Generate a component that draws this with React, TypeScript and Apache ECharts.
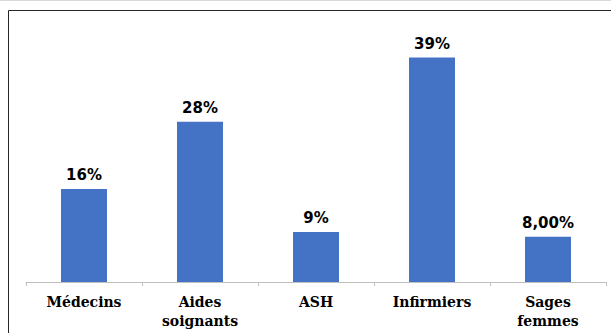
import React, { useEffect, useRef } from "react";
import * as echarts from "echarts";

const categories = ["Médecins", "Aides\nsoignants", "ASH", "Infirmiers", "Sages\nfemmes"];
const values = [16.26, 27.97, 8.74, 39.2, 7.92];
const valueLabels = ["16%", "28%", "9%", "39%", "8,00%"];

export default function App() {
  const ref = useRef<HTMLDivElement>(null);
  useEffect(() => {
    if (!ref.current) return;
    const chart = echarts.init(ref.current, null, { renderer: "svg" });
    chart.setOption({
      animation: false,
      backgroundColor: "#ffffff",
      grid: { left: 26, right: 5, top: 53, bottom: 51, containLabel: false },
      xAxis: {
        type: "category",
        data: categories,
        boundaryGap: true,
        axisLine: { show: true, lineStyle: { color: "#BFBFBF", width: 1 } },
        axisTick: { show: true, length: 4, lineStyle: { color: "#BFBFBF" } },
        axisLabel: {
          interval: 0,
          margin: 10,
          color: "#000000",
          fontFamily: "DejaVu Serif",
          fontWeight: "bold",
          fontSize: 14,
          lineHeight: 19,
        },
      },
      yAxis: {
        type: "value",
        min: 0,
        max: 40,
        show: false,
        splitLine: { show: false },
      },
      series: [
        {
          type: "bar",
          data: values,
          barWidth: 46,
          itemStyle: { color: "#4472C4" },
          label: {
            show: true,
            position: "top",
            distance: 6,
            color: "#000000",
            fontFamily: "DejaVu Sans",
            fontWeight: "bold",
            fontSize: 15,
            formatter: (p: any) => valueLabels[p.dataIndex],
          },
        },
      ],
      graphic: [
        {
          type: "rect",
          shape: { x: 8.5, y: 10.5, width: 700, height: 400 },
          style: { fill: "none", stroke: "#262626", lineWidth: 1 },
          silent: true,
        },
        {
          type: "line",
          shape: { x1: 0, y1: 0.5, x2: 611, y2: 0.5 },
          style: { stroke: "#D9D9D9", lineWidth: 1 },
          silent: true,
        },
      ],
    });
    return () => chart.dispose();
  }, []);
  return (
    <div
      ref={ref}
      style={{ position: "fixed", left: 0, top: 0, width: 611, height: 333 }}
    />
  );
}
